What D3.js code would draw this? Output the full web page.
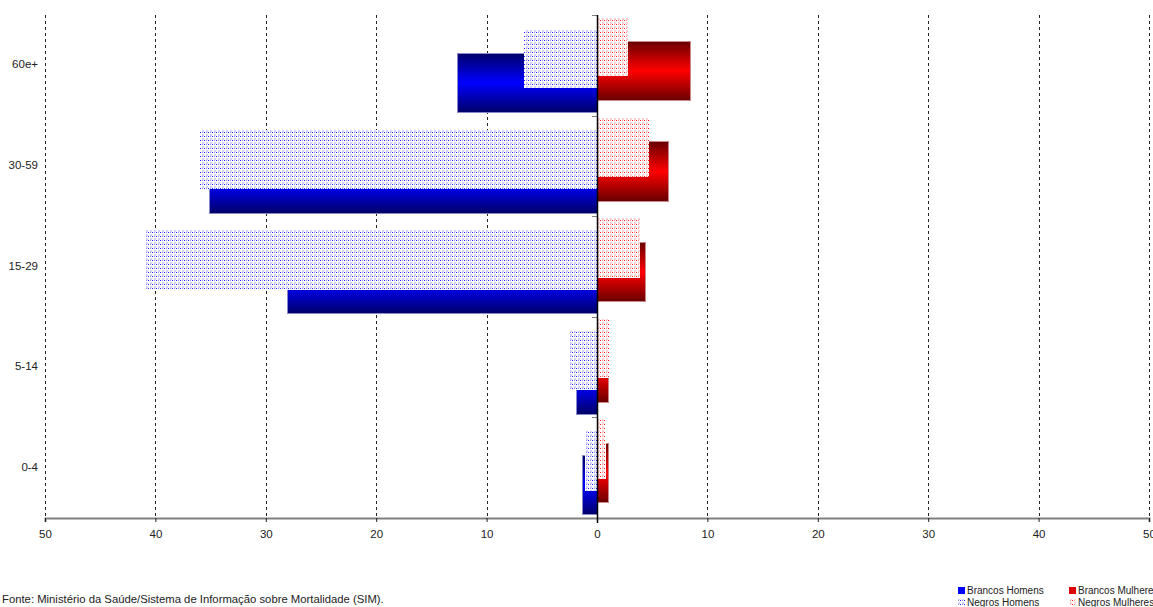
<!DOCTYPE html>
<html>
<head>
<meta charset="utf-8">
<script src="https://cdn.jsdelivr.net/npm/d3@7"></script>
<style>
  html, body { margin: 0; padding: 0; background: #fff; }
  svg { display: block; }
  text { font-family: "Liberation Sans", Arial, sans-serif; fill: #222; }
</style>
</head>
<body>
<svg id="chart" width="1153" height="607"></svg>
<script>
// ---- data ----
const categories = ["60e+", "30-59", "15-29", "5-14", "0-4"];
const brancosHomens   = [12.6, 35.1, 28.0, 1.9, 1.3];
const negrosHomens    = [6.6, 36.0, 40.9, 2.5, 1.1];
const brancosMulheres = [8.5, 6.5, 4.4, 1.0, 1.0];
const negrosMulheres  = [2.8, 4.7, 3.9, 1.2, 0.8];
const tickValues = [-50, -40, -30, -20, -10, 0, 10, 20, 30, 40, 50];
const legendLabels = ["Brancos Homens", "Negros Homens", "Brancos Mulheres", "Negros Mulheres"];
const sourceText = "Fonte: Ministério da Saúde/Sistema de Informação sobre Mortalidade (SIM).";

// ---- layout ----
const svg = d3.select("#chart");
const plotTop = 15, plotBottom = 518, plotLeft = 45, plotRight = 1149;

const x = d3.scaleLinear().domain([-50, 50]).range([plotLeft, plotRight]);
const y = d3.scaleBand().domain(categories).range([plotTop, plotBottom]).padding(0);
const bw = y.bandwidth();
const barH = bw * 0.59;

// ---- defs ----
const defs = svg.append("defs");
function grad(id, dark, bright) {
  const g = defs.append("linearGradient").attr("id", id)
    .attr("x1", 0).attr("y1", 0).attr("x2", 0).attr("y2", 1);
  g.append("stop").attr("offset", "0%").attr("stop-color", dark);
  g.append("stop").attr("offset", "50%").attr("stop-color", bright);
  g.append("stop").attr("offset", "100%").attr("stop-color", dark);
}
grad("gBlue", "#000068", "#0000ff");
grad("gRed", "#680000", "#ff0000");

function pattern(id, strong, mid, light) {
  const p = defs.append("pattern").attr("id", id)
    .attr("width", 4).attr("height", 4).attr("patternUnits", "userSpaceOnUse");
  p.append("rect").attr("width", 4).attr("height", 4).attr("fill", "#fff");
  p.append("rect").attr("x", 0).attr("y", 0).attr("width", 1).attr("height", 1).attr("fill", strong);
  p.append("rect").attr("x", 2).attr("y", 0).attr("width", 1).attr("height", 1).attr("fill", mid);
  p.append("rect").attr("x", 2).attr("y", 2).attr("width", 2).attr("height", 2).attr("fill", light);
}
pattern("pBlue", "#2020ff", "#9090ff", "#d0d0ff");
pattern("pRed", "#ff2020", "#ff9090", "#ffd0d0");

// ---- gridlines ----
svg.append("g").selectAll("line")
  .data(tickValues.filter(d => d !== 0))
  .join("line")
  .attr("x1", d => Math.round(x(d)) + 0.5).attr("x2", d => Math.round(x(d)) + 0.5)
  .attr("y1", plotTop).attr("y2", plotBottom)
  .attr("stroke", "#222").attr("stroke-width", 1).attr("stroke-dasharray", "3,3")
  .attr("shape-rendering", "crispEdges");

// ---- bars ----
function bars(vals, sign, offsetFrac, fill, stroke) {
  svg.append("g").selectAll("rect")
    .data(categories.map((c, i) => ({ c, v: vals[i] })))
    .join("rect")
    .attr("x", d => sign < 0 ? x(-d.v) : x(0))
    .attr("width", d => Math.abs(x(sign * d.v) - x(0)))
    .attr("y", d => y(d.c) + bw * offsetFrac)
    .attr("height", barH)
    .attr("fill", fill)
    .attr("stroke", stroke)
    .attr("stroke-width", stroke === "none" ? 0 : 1)
    .attr("shape-rendering", "crispEdges");
}
bars(brancosHomens, -1, 0.38, "url(#gBlue)", "#8888c8");
bars(negrosHomens, -1, 0.14, "url(#pBlue)", "none");
bars(brancosMulheres, 1, 0.26, "url(#gRed)", "#c88888");
bars(negrosMulheres, 1, 0.02, "url(#pRed)", "none");

// ---- x axis ----
const xAxis = d3.axisBottom(x).tickValues(tickValues)
  .tickFormat(d => Math.abs(d)).tickSize(4).tickPadding(8);
const gx = svg.append("g").attr("transform", `translate(0,${plotBottom})`).call(xAxis);
gx.select(".domain").attr("stroke", "#808080").attr("stroke-width", 2);
gx.selectAll(".tick line").attr("stroke", "#222");
gx.selectAll(".tick text").attr("font-size", 11.5).attr("fill", "#222")
  .attr("font-family", "Liberation Sans, Arial, sans-serif");

// ---- category axis at zero ----
const boundaries = categories.map(c => y(c)).concat([plotBottom]);
svg.append("g").selectAll("line").data(boundaries).join("line")
  .attr("x1", x(0) - 5).attr("x2", x(0))
  .attr("y1", d => Math.round(d) + 0.5).attr("y2", d => Math.round(d) + 0.5)
  .attr("stroke", "#808080").attr("stroke-width", 1);
svg.append("line")
  .attr("x1", Math.round(x(0)) + 0.5).attr("x2", Math.round(x(0)) + 0.5)
  .attr("y1", plotTop).attr("y2", plotBottom + 5)
  .attr("stroke", "#000").attr("stroke-width", 1.5);

svg.append("g").selectAll("text").data(categories).join("text")
  .attr("x", 38).attr("y", d => y(d) + bw / 2)
  .attr("text-anchor", "end").attr("dominant-baseline", "middle")
  .attr("font-size", 11.5)
  .text(d => d);

// ---- source ----
svg.append("text").attr("x", 2).attr("y", 603).attr("font-size", 11.3).text(sourceText);

// ---- legend ----
const legendItems = [
  { label: legendLabels[0], fill: "#0000ff", x: 958, y: 587 },
  { label: legendLabels[1], fill: "url(#pBlue)", x: 958, y: 599 },
  { label: legendLabels[2], fill: "#dd0000", x: 1069, y: 587 },
  { label: legendLabels[3], fill: "url(#pRed)", x: 1069, y: 599 }
];
const lg = svg.append("g").selectAll("g").data(legendItems).join("g");
lg.append("rect").attr("x", d => d.x).attr("y", d => d.y)
  .attr("width", 7).attr("height", 7).attr("fill", d => d.fill);
lg.append("text").attr("x", d => d.x + 9).attr("y", d => d.y + 7)
  .attr("font-size", 10).text(d => d.label);
</script>
</body>
</html>
